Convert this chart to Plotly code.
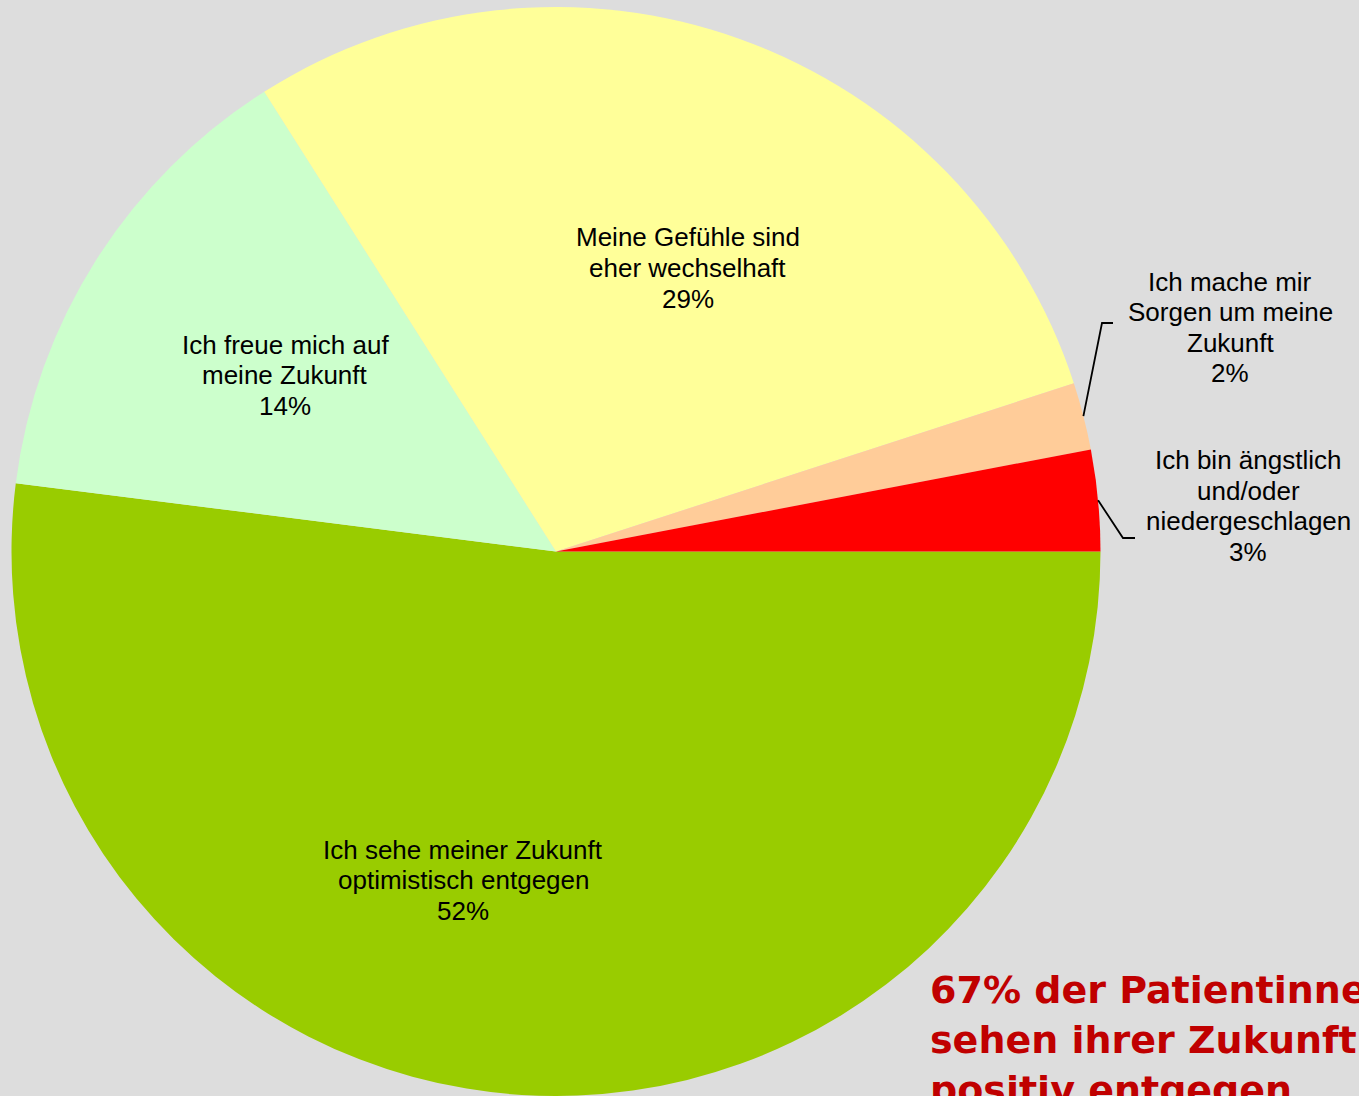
import math
import plotly.graph_objects as go

# Answers, listed clockwise starting at 3 o'clock
categories = [
    "Ich sehe meiner Zukunft<br>optimistisch entgegen",
    "Ich freue mich auf<br>meine Zukunft",
    "Meine Gefühle sind<br>eher wechselhaft",
    "Ich mache mir<br>Sorgen um meine<br>Zukunft",
    "Ich bin ängstlich<br>und/oder<br>niedergeschlagen",
]
values = [52, 14, 29, 2, 3]
colors = ["#99CC00", "#CCFFCC", "#FFFF99", "#FFCC99", "#FF0000"]
headline = ["67% der Patientinnen", "sehen ihrer Zukunft", "positiv entgegen"]

W, H = 1359, 1096
BG = "#DDDDDD"

# pie geometry in pixels
left, right, top, bottom = 11, 1101, 7, 1096
cx = (left + right) / 2
R = min(right - left, bottom - top) / 2
cy = top + R


def px(x, y):
    return x / W, 1 - y / H


fig = go.Figure(
    go.Pie(
        labels=[c.replace("<br>", " ") for c in categories],
        values=values,
        marker=dict(colors=colors, line=dict(width=0)),
        sort=False,
        direction="clockwise",
        rotation=90,
        textinfo="none",
        hoverinfo="label+percent",
        showlegend=False,
        domain=dict(x=[left / W, right / W], y=[0, 1 - top / H]),
    )
)

# label placement (pixel centres) and, for the thin slices, leader elbows
label_pos = [(463, 880), (285, 375), (688, 268), (1230, 327.5), (1248, 506)]
elbows = {3: [(1102, 323), (1113, 323)], 4: [(1123, 538), (1135, 538)]}
LINE = 30.5
LABEL_FONT = dict(family="Arial, Liberation Sans, sans-serif", size=26, color="#000000")

total = sum(values)
annotations = []
shapes = []
cum = 0
for i, (cat, v) in enumerate(zip(categories, values)):
    mid = (cum + v / 2) / total * 2 * math.pi  # clockwise from 3 o'clock
    cum += v
    lines = cat.split("<br>") + [f"{v}%"]
    lx, ly = label_pos[i]
    y0 = ly - LINE * (len(lines) - 1) / 2
    for k, line in enumerate(lines):
        ax_, ay_ = px(lx, y0 + k * LINE)
        annotations.append(dict(
            x=ax_, y=ay_, xref="paper", yref="paper",
            text=line, showarrow=False,
            xanchor="center", yanchor="middle", align="center",
            font=LABEL_FONT,
        ))
    if i in elbows:
        rx = cx + R * math.cos(mid)
        ry = cy + R * math.sin(mid)
        pts = [(rx, ry)] + elbows[i]
        path = "M " + " L ".join(f"{px(a, b)[0]},{px(a, b)[1]}" for a, b in pts)
        shapes.append(dict(type="path", xref="paper", yref="paper", path=path,
                           line=dict(color="#000000", width=1.8)))

# headline, bottom right, running off the page edge
for k, line in enumerate(headline):
    hx, hy = px(928, 990 + k * 50)
    annotations.append(dict(
        x=hx, y=hy, xref="paper", yref="paper", text=f"<b>{line}</b>",
        showarrow=False, xanchor="left", yanchor="middle", align="left",
        font=dict(family="Verdana, DejaVu Sans, sans-serif", size=38, color="#C00000"),
    ))

fig.update_layout(
    width=W, height=H,
    margin=dict(l=0, r=0, t=0, b=0),
    paper_bgcolor=BG, plot_bgcolor=BG,
    annotations=annotations, shapes=shapes,
)

fig.write_html("out.html")
